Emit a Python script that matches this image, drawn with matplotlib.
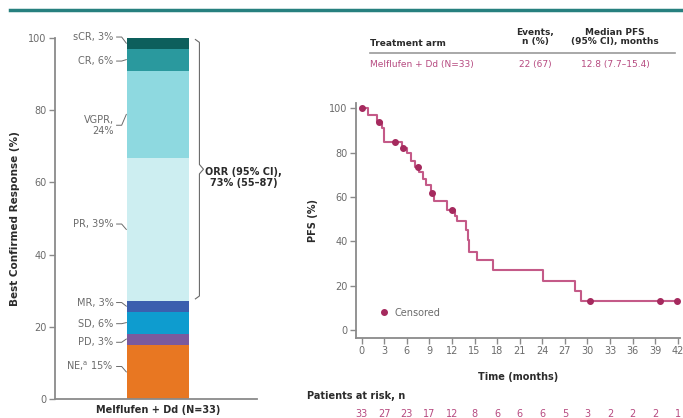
import numpy as np
import matplotlib.pyplot as plt
from matplotlib.lines import Line2D

plt.rcParams['font.family'] = ['DejaVu Sans']

# --- left panel: best confirmed response (patients, N=33) ---
resp_labels = ["NE,$^{\\mathrm{a}}$ 15%", "PD, 3%", "SD, 6%", "MR, 3%", "PR, 39%", "VGPR,\n24%", "CR, 6%", "sCR, 3%"]
resp_counts = [5, 1, 2, 1, 13, 8, 2, 1]
resp_colors = ["#E87722", "#7A5A9E", "#0E9CCF", "#3B5FAE", "#CDEEF1", "#8ED9E0", "#2A999E", "#0D5F5C"]
label_shift = [1.5, -0.9, -0.3, 1.0, 1.5, -3.0, -0.4, 1.7]
orr_text = "ORR (95% CI),\n73% (55–87)"
arm_label = "Melflufen + Dd (N=33)"

# --- right panel: PFS Kaplan-Meier ---
step_times = [0, 0.9, 2.0, 2.65, 3.0, 5.3, 6.0, 6.55, 7.1, 7.65, 8.2, 8.6, 9.2, 9.65,
              11.4, 12.4, 12.7, 13.8, 14.1, 14.3, 15.3, 17.5, 24.1, 28.3, 29.2]
step_surv = [100, 97.0, 93.9, 90.9, 84.8, 82.0, 79.7, 76.2, 73.7, 71.4, 67.9, 65.5, 62.0, 58.0,
             54.2, 51.6, 49.4, 45.2, 40.7, 35.4, 31.6, 27.0, 22.2, 17.8, 13.2]
censor_times = [0.1, 2.3, 4.4, 5.5, 7.5, 9.4, 12.0, 30.3, 39.6, 41.9]
risk_times = list(range(0, 43, 3))
at_risk = [33, 27, 23, 17, 12, 8, 6, 6, 6, 5, 3, 2, 2, 2, 1]
table_header = ["Treatment arm", "Events,\nn (%)", "Median PFS\n(95% CI), months"]
table_row = ["Melflufen + Dd (N=33)", "22 (67)", "12.8 (7.7–15.4)"]

grey = "#6b6b6b"
spine_c = "#8a8a8a"
pink_line = "#C45A88"
pink_dot = "#A52A5E"
pink_txt = "#B64A80"
dark = "#2b2b2b"

fig = plt.figure(figsize=(6.83, 4.18), dpi=100)

# top rule of the slide
fig.add_artist(Line2D([10 / 683, 1], [1 - 10 / 418] * 2, color="#27807F", lw=2.5,
                      transform=fig.transFigure))

# ---------------- left panel ----------------
ax1 = fig.add_axes([55 / 683, 18.7 / 418, 202 / 683, 361.6 / 418])
pct = np.array(resp_counts) / sum(resp_counts) * 100
bottoms = np.concatenate([[0], np.cumsum(pct)[:-1]])
bar_x, bar_w = 0.51, 0.31
ax1.bar(bar_x, pct, bottom=bottoms, width=bar_w, color=resp_colors, edgecolor="none")
ax1.set_xlim(0, 1)
ax1.set_ylim(0, 100)
ax1.set_yticks([0, 20, 40, 60, 80, 100])
ax1.set_xticks([bar_x])
ax1.set_xticklabels([arm_label], fontsize=7, fontweight="bold", color=dark)
ax1.tick_params(axis="x", length=0, pad=4)
ax1.tick_params(axis="y", length=4, width=1, color=spine_c, labelcolor=grey, labelsize=7, pad=2)
for s in ["top", "right"]:
    ax1.spines[s].set_visible(False)
for s in ["left", "bottom"]:
    ax1.spines[s].set_color(spine_c)
    ax1.spines[s].set_linewidth(1.3)
ax1.set_ylabel("Best Confirmed Response (%)", fontsize=7.5, fontweight="bold", color=dark, labelpad=6)

x_left = bar_x - bar_w / 2
for lab, b, h, dy in zip(resp_labels, bottoms, pct, label_shift):
    mid = b + h / 2
    ax1.text(x_left - 0.065, mid + dy, lab, ha="right", va="center", fontsize=7,
             color=grey, linespacing=1.1)
    ax1.plot([x_left - 0.05, x_left - 0.025, x_left - 0.002], [mid + dy, mid + dy, mid],
             color=grey, lw=0.7, clip_on=False)

# ORR bracket over PR..sCR
top = np.sum(pct)
bot = np.sum(pct[:4])
mid = (top + bot) / 2
bx = x_left + bar_w + 0.03
ax1.plot([bx, bx + 0.02, bx + 0.02, bx + 0.04, bx + 0.02, bx + 0.02, bx],
         [top - 0.5, top - 1.3, mid + 1.3, mid, mid - 1.3, bot + 1.3, bot + 0.5],
         color=grey, lw=0.8, clip_on=False)
ax1.text(bx + 0.24, mid - 2.3, orr_text, ha="center", va="center", fontsize=7,
         fontweight="bold", color=dark, multialignment="center", linespacing=1.2)

# ---------------- right panel ----------------
ax2 = fig.add_axes([356 / 683, 80 / 418, 324 / 683, 235 / 418])
t_line = np.append(step_times, censor_times[-1])
s_line = np.append(step_surv, step_surv[-1])
ax2.step(t_line, s_line, where="post", color=pink_line, lw=1.5)
idx = np.searchsorted(step_times, censor_times, side="right") - 1
ax2.plot(censor_times, np.array(step_surv)[idx], "o", color=pink_dot, ms=4, ls="none")
ax2.set_xlim(-0.76, 42.3)
ax2.set_ylim(-3.6, 102.4)
ax2.set_xticks(risk_times)
ax2.set_yticks([0, 20, 40, 60, 80, 100])
ax2.tick_params(length=4, width=1, color=spine_c, labelcolor=grey, labelsize=7, pad=2)
for s in ["top", "right"]:
    ax2.spines[s].set_visible(False)
for s in ["left", "bottom"]:
    ax2.spines[s].set_color(spine_c)
    ax2.spines[s].set_linewidth(1.3)
ax2.set_xlabel("Time (months)", fontsize=7, fontweight="bold", color=dark, labelpad=11)
ax2.set_ylabel("PFS (%)", fontsize=7, fontweight="bold", color=dark, labelpad=8)

ax2.legend(handles=[Line2D([], [], marker="o", ls="none", color=pink_dot, ms=4)],
           labels=["Censored"], loc="lower left", bbox_to_anchor=(0.03, 0.05), frameon=False,
           fontsize=7, handletextpad=0.1, labelcolor=grey)

# patients at risk
fig.text(307 / 683, 1 - 396 / 418, "Patients at risk, n", fontsize=7, fontweight="bold",
         color=dark, va="center")
tr = ax2.get_xaxis_transform()
for t, n in zip(risk_times, at_risk):
    ax2.text(t, -0.323, str(n), transform=tr, ha="center", va="center", fontsize=7,
             color=pink_txt, clip_on=False)

# summary table
col_x = [370 / 683, 535 / 683, 615 / 683]
col_ha = ["left", "center", "center"]
for x, ha, txt in zip(col_x, col_ha, table_header):
    y = 1 - 44 / 418 if "\n" not in txt else 1 - 37 / 418
    fig.text(x, y, txt, ha=ha, va="center", fontsize=6.5, fontweight="bold", color=dark,
             linespacing=1.1)
for x, ha, txt in zip(col_x, col_ha, table_row):
    fig.text(x, 1 - 65 / 418, txt, ha=ha, va="center", fontsize=6.5, color=pink_txt)
fig.add_artist(Line2D([370 / 683, 675 / 683], [1 - 52.5 / 418] * 2, color="#9a9a9a", lw=1.2,
                      transform=fig.transFigure))

fig.savefig("out.png", dpi=100)
